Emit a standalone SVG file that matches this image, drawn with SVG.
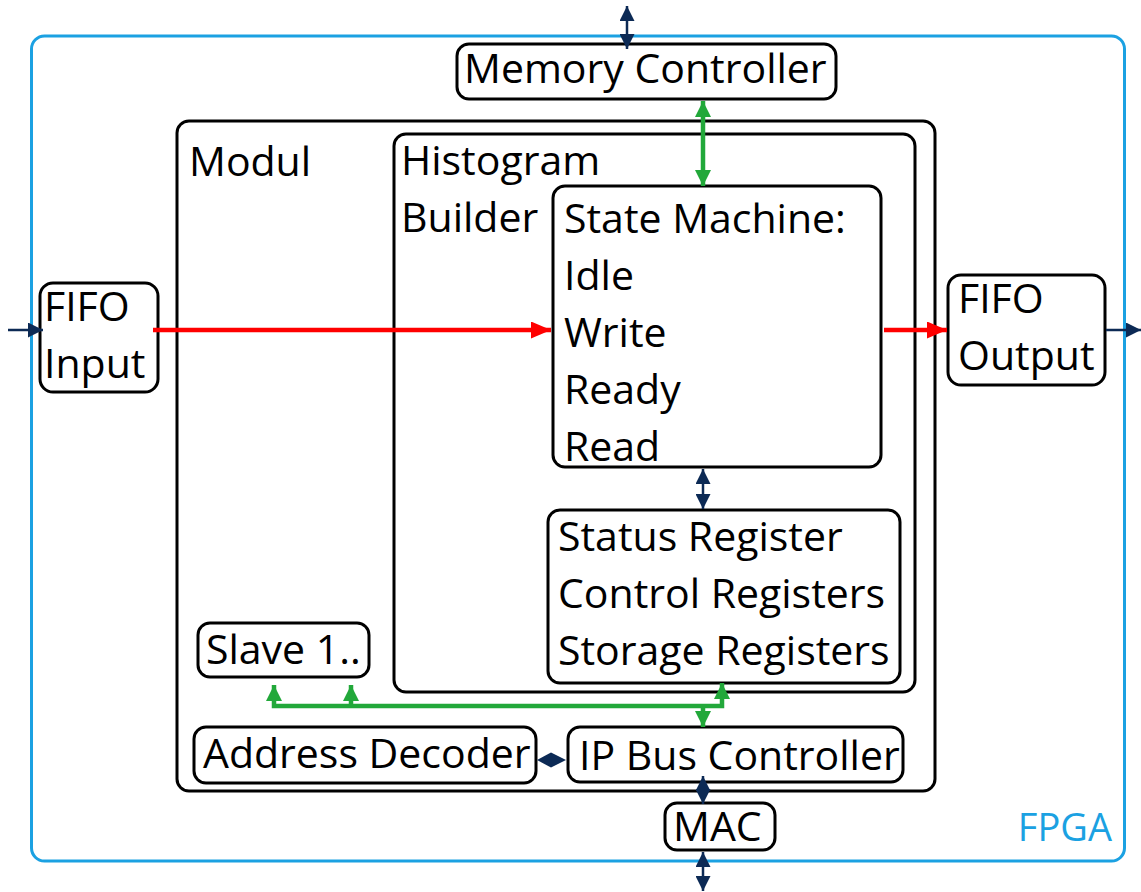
<svg xmlns="http://www.w3.org/2000/svg" width="1141" height="892" viewBox="0 0 1141 892">
<defs>
<style>
.box{fill:#fff;stroke:#000;stroke-width:3}
.t{font-family:"Open Sans","Liberation Sans",sans-serif;font-size:41px;fill:#000}
.red{stroke:#f00;stroke-width:4.5;fill:none}
.grn{stroke:#22a83a;stroke-width:4.5;fill:none}
.nav{stroke:#0c2a55;stroke-width:2.5;fill:none}
</style>
<marker id="mr" markerUnits="userSpaceOnUse" markerWidth="20" markerHeight="17" refX="20" refY="8.5" orient="auto-start-reverse"><path d="M0,0L20,8.5L0,17z" fill="#f00"/></marker>
<marker id="mg" markerUnits="userSpaceOnUse" markerWidth="16" markerHeight="16" refX="16" refY="8" orient="auto-start-reverse"><path d="M0,0L16,8L0,16z" fill="#22a83a"/></marker>
<marker id="mn" markerUnits="userSpaceOnUse" markerWidth="15" markerHeight="15" refX="15" refY="7.5" orient="auto-start-reverse"><path d="M0,0L15,7.5L0,15z" fill="#0c2a55"/></marker>
</defs>
<rect width="1141" height="892" fill="#fff"/>
<g id="fpga">
<rect x="31.5" y="36" width="1093" height="825" rx="13" fill="none" stroke="#1ba1e2" stroke-width="3"/>
<text x="1112" y="841" text-anchor="end" style="font-family:'Open Sans','Liberation Sans',sans-serif;font-size:38px;fill:#1ba1e2">FPGA</text>
</g>
<g id="modul">
<rect class="box" x="177" y="121" width="758" height="670" rx="12"/>
<text class="t" x="189" y="176">Modul</text>
</g>
<g id="histogram">
<rect class="box" x="394" y="134" width="521" height="558" rx="12"/>
<text class="t" x="401" y="175">Histogram</text>
<text class="t" x="401" y="232">Builder</text>
</g>
<g id="memctrl">
<rect class="box" x="457" y="44" width="379" height="55" rx="12"/>
<text class="t" x="464" y="83">Memory Controller</text>
</g>
<g id="statemachine">
<rect class="box" x="553" y="186" width="328" height="281" rx="12"/>
<text class="t" x="564" y="233">State Machine:</text>
<text class="t" x="564" y="290">Idle</text>
<text class="t" x="564" y="347">Write</text>
<text class="t" x="564" y="404">Ready</text>
<text class="t" x="564" y="461">Read</text>
</g>
<g id="registers">
<rect class="box" x="548" y="510" width="352" height="173" rx="12"/>
<text class="t" x="558" y="551">Status Register</text>
<text class="t" x="558" y="608">Control Registers</text>
<text class="t" x="558" y="665">Storage Registers</text>
</g>
<g id="slave">
<rect class="box" x="198" y="623" width="171" height="54" rx="12"/>
<text class="t" x="206" y="664">Slave 1..</text>
</g>
<g id="addrdec">
<rect class="box" x="194" y="727" width="342" height="56" rx="12"/>
<text class="t" x="203" y="768">Address Decoder</text>
</g>
<g id="ipbus">
<rect class="box" x="568" y="727" width="335" height="55" rx="12"/>
<text class="t" x="579" y="770">IP Bus Controller</text>
</g>
<g id="mac">
<rect class="box" x="665" y="803" width="110" height="47" rx="12"/>
<text class="t" x="673" y="841">MAC</text>
</g>
<g id="fifoin">
<rect class="box" x="40" y="283" width="118" height="109" rx="13"/>
<text class="t" x="44" y="321">FIFO</text>
<text class="t" x="44" y="378">Input</text>
</g>
<g id="fifoout">
<rect class="box" x="948" y="275" width="157" height="110" rx="13"/>
<text class="t" x="958" y="313">FIFO</text>
<text class="t" x="958" y="370">Output</text>
</g>
<g id="connectors">
<line class="nav" x1="8" y1="330" x2="43" y2="330" marker-end="url(#mn)"/>
<line class="red" x1="153" y1="330" x2="551" y2="330" marker-end="url(#mr)"/>
<line class="red" x1="884" y1="330" x2="947" y2="330" marker-end="url(#mr)"/>
<line class="nav" x1="1106" y1="330" x2="1141" y2="330" marker-end="url(#mn)"/>
<line class="nav" x1="627" y1="6" x2="627" y2="49" marker-start="url(#mn)" marker-end="url(#mn)"/>
<line class="grn" x1="703" y1="101" x2="703" y2="186" marker-start="url(#mg)" marker-end="url(#mg)"/>
<line class="nav" x1="703" y1="469" x2="703" y2="509" marker-start="url(#mn)" marker-end="url(#mn)"/>
<path class="grn" d="M274,685L274,706L722,706L722,683" marker-start="url(#mg)" marker-end="url(#mg)"/>
<path class="grn" d="M351,706L351,685" marker-end="url(#mg)"/>
<path class="grn" d="M703,706L703,727" marker-end="url(#mg)"/>
<polygon points="537,760 551,752.5 566,760 551,767.5" fill="#0c2a55"/>
<line class="nav" x1="703" y1="776" x2="703" y2="804" marker-start="url(#mn)" marker-end="url(#mn)"/>
<line class="nav" x1="703" y1="852" x2="703" y2="891" marker-start="url(#mn)" marker-end="url(#mn)"/>
</g>
</svg>
